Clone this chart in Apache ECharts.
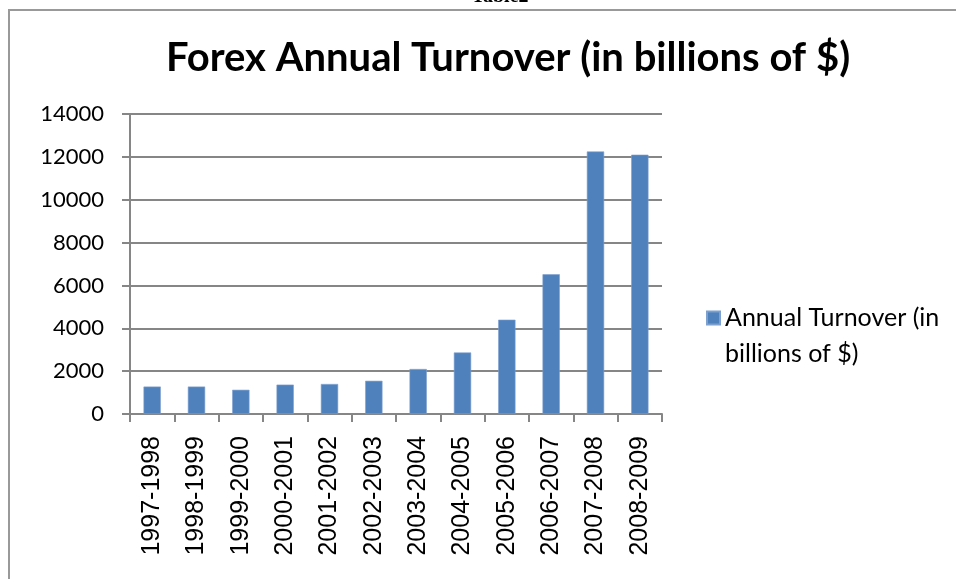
<!DOCTYPE html>
<html>
<head>
<meta charset="utf-8">
<script src="https://cdn.jsdelivr.net/npm/echarts@6/dist/echarts.min.js"></script>
<style>
  html, body { margin: 0; padding: 0; background: #ffffff; }
  #chart { width: 956px; height: 579px; }
</style>
</head>
<body>
<div id="chart"></div>
<script>
// Forex turnover per fiscal year, in billions of dollars
const categories = [
  '1997-1998', '1998-1999', '1999-2000', '2000-2001', '2001-2002', '2002-2003',
  '2003-2004', '2004-2005', '2005-2006', '2006-2007', '2007-2008', '2008-2009'
];
const turnover = [1280, 1280, 1130, 1370, 1400, 1550, 2100, 2870, 4400, 6520, 12250, 12100];
const yTicks = { min: 0, max: 14000, interval: 2000 };
const seriesName = 'Annual Turnover (in billions of $)';
const legendLines = ['Annual Turnover (in', 'billions of $)'];
const titleText = 'Forex Annual Turnover (in billions of $)';
const headerText = 'Table2';

const gridColor = '#868686';
const barColor = '#4F81BD';
const sansFont = 'Lato, "Open Sans", sans-serif';

const chart = echarts.init(document.getElementById('chart'), null, { renderer: 'canvas' });

chart.setOption({
  backgroundColor: '#ffffff',
  animation: false,
  title: {
    text: titleText,
    left: 503,
    textAlign: 'center',
    top: 33,
    textStyle: {
      fontFamily: sansFont,
      fontWeight: 'bold',
      fontSize: 40,
      color: '#000000'
    }
  },
  grid: { left: 130, right: 294, top: 114, bottom: 165, containLabel: false },
  legend: {
    left: 701,
    top: 259,
    orient: 'vertical',
    icon: 'rect',
    itemWidth: 13,
    itemHeight: 13,
    itemGap: 0,
    // leading blank line keeps the swatch level with the first text line
    formatter: () => '\n' + legendLines.join('\n'),
    textStyle: {
      fontFamily: sansFont,
      fontSize: 25,
      color: '#000000',
      lineHeight: 36
    }
  },
  xAxis: {
    type: 'category',
    data: categories,
    axisLine: { show: true, lineStyle: { color: gridColor, width: 2 } },
    axisTick: { show: true, length: 8, lineStyle: { color: gridColor, width: 2 } },
    axisLabel: {
      rotate: 90,
      margin: 22,
      fontFamily: '"Liberation Sans", Arial, sans-serif',
      fontSize: 25,
      color: '#000000'
    }
  },
  yAxis: {
    type: 'value',
    min: yTicks.min,
    max: yTicks.max,
    interval: yTicks.interval,
    axisLine: { show: true, lineStyle: { color: gridColor, width: 2 } },
    axisTick: { show: true, length: 8, lineStyle: { color: gridColor, width: 2 } },
    splitLine: { show: true, lineStyle: { color: gridColor, width: 2 } },
    axisLabel: {
      margin: 26,
      formatter: (v) => String(v),
      fontFamily: sansFont,
      fontSize: 22,
      color: '#000000'
    }
  },
  series: [{
    name: seriesName,
    type: 'bar',
    data: turnover,
    barCategoryGap: '61%',
    itemStyle: { color: barColor, borderColor: '#7DA0CE', borderWidth: 0.6 }
  }],
  graphic: [
    {
      type: 'rect',
      silent: true,
      shape: { x: 9, y: 10, width: 1000, height: 700 },
      style: { fill: 'none', stroke: '#999999', lineWidth: 2 }
    },
    {
      type: 'text',
      silent: true,
      style: {
        x: 500,
        y: 7,
        text: headerText,
        align: 'center',
        verticalAlign: 'bottom',
        font: 'bold 20px "Liberation Serif", serif',
        fill: '#000000'
      }
    }
  ]
});
</script>
</body>
</html>
